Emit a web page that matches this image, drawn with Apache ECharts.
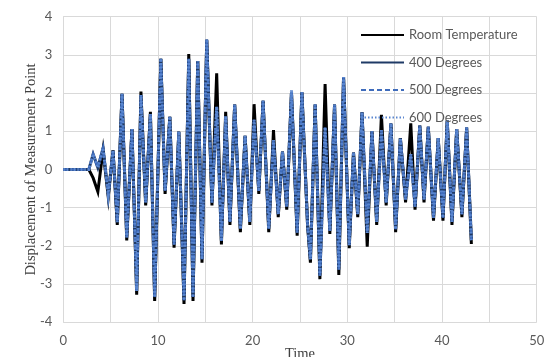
<!DOCTYPE html>
<html>
<head>
<meta charset="utf-8">
<script src="https://cdn.jsdelivr.net/npm/echarts@6/dist/echarts.min.js"></script>
<style>html,body{margin:0;padding:0;background:#fff}#c{width:549px;height:357px}</style>
</head>
<body>
<div id="c"></div>
<script>
var seriesNames = ['Room Temperature', '400 Degrees', '500 Degrees', '600 Degrees'];
var xTicks = [0, 10, 20, 30, 40, 50];
var yTicks = [-4, -3, -2, -1, 0, 1, 2, 3, 4];

var time = [0, 2.7, 3.15, 3.65, 4.2, 4.75, 5.25, 5.7, 6.2, 6.7, 7.25, 7.75, 8.2, 8.7, 9.2, 9.65,
  10.3, 10.75, 11.25, 11.7, 12.2, 12.75, 13.25, 13.7, 14.2, 14.65, 15.15, 15.7, 16.2, 16.7, 17.15, 17.6,
  18.1, 18.7, 19.2, 19.7, 20.15, 20.65, 21.1, 21.7, 22.2, 22.7, 23.15, 23.6, 24.1, 24.7, 25.2, 25.8,
  26.1, 26.6, 27.1, 27.65, 28.15, 28.65, 29.1, 29.6, 30.2, 30.65, 31.1, 31.55, 32.1, 32.6, 33.1, 33.6,
  34.1, 34.6, 35.1, 35.6, 36.15, 36.7, 37.15, 37.65, 38.1, 38.55, 39.1, 39.6, 40.1, 40.55, 41.05, 41.55,
  42.1, 42.6, 43.1];

var roomTemp = [0, 0, -0.22, -0.58, 0.5, -0.72, 0.5, -1.45, 1.98, -1.86, 1.06, -3.28, 2.04, -0.94, 1.51, -3.44,
  2.9, -0.64, 1.38, -2.05, 0.99, -3.52, 3.02, -3.44, 2.84, -2.44, 3.38, -0.94, 2.52, -1.96, 1.51, -1.45,
  1.7, -1.64, 0.88, -1.45, 1.71, -0.64, 1.8, -1.64, 1.03, -1.25, 0.47, -1.05, 2.0, -1.73, 2.02, -1.45,
  -2.44, 1.7, -2.87, 2.24, -1.69, 1.7, -2.76, 2.42, -2.06, 0.44, -1.25, 1.5, -2.02, 1.0, -1.45, 1.43,
  -0.94, 1.2, -1.64, 0.82, -0.86, 1.21, -1.05, 1.15, -0.86, 1.12, -1.34, 0.82, -1.34, 1.28, -1.45, 1.06,
  -1.25, 1.1, -1.95];

var deg400 = [0, 0, 0.4, 0.05, 0.56, -0.66, 0.5, -1.38, 1.98, -1.78, 1.06, -3.18, 1.95, -0.86, 1.45, -3.34,
  2.9, -0.56, 1.38, -1.96, 0.99, -3.42, 2.9, -3.34, 2.84, -2.35, 3.4, -0.86, 1.64, -1.87, 1.4, -1.37,
  1.7, -1.55, 0.88, -1.37, 1.3, -0.56, 1.8, -1.55, 0.77, -1.17, 0.47, -0.97, 2.02, -1.65, 2.02, -1.45,
  -2.35, 1.7, -2.78, 1.1, -1.6, 1.7, -2.62, 2.42, -1.98, 0.44, -1.17, 1.5, -1.66, 1.0, -1.37, 1.03,
  -0.86, 1.2, -1.56, 0.82, -0.78, 0.4, -0.97, 1.15, -0.78, 1.12, -1.26, 0.82, -1.26, 1.28, -1.37, 1.06,
  -1.17, 1.1, -1.85];

var deg500 = [0, 0, 0.4, 0.05, 0.56, -0.66, 0.5, -1.38, 1.98, -1.78, 1.06, -3.18, 1.95, -0.86, 1.45, -3.34,
  2.9, -0.56, 1.38, -1.96, 0.99, -3.42, 2.9, -3.34, 2.84, -2.35, 3.4, -0.86, 1.64, -1.87, 1.4, -1.37,
  1.7, -1.55, 0.88, -1.37, 1.3, -0.56, 1.8, -1.55, 0.77, -1.17, 0.47, -0.97, 2.02, -1.65, 2.02, -1.45,
  -2.35, 1.7, -2.78, 1.1, -1.6, 1.7, -2.62, 2.42, -1.98, 0.44, -1.17, 1.5, -1.66, 1.0, -1.37, 1.03,
  -0.86, 1.2, -1.56, 0.82, -0.78, 0.4, -0.97, 1.15, -0.78, 1.12, -1.26, 0.82, -1.26, 1.28, -1.37, 1.06,
  -1.17, 1.1, -1.85];

var deg600 = [0, 0, 0.4, 0.05, 0.56, -0.66, 0.5, -1.38, 1.98, -1.78, 1.06, -3.18, 1.95, -0.86, 1.45, -3.34,
  2.9, -0.56, 1.38, -1.96, 0.99, -3.42, 2.9, -3.34, 2.84, -2.35, 3.4, -0.86, 1.64, -1.87, 1.4, -1.37,
  1.7, -1.55, 0.88, -1.37, 1.3, -0.56, 1.8, -1.55, 0.77, -1.17, 0.47, -0.97, 2.08, -1.65, 2.02, -1.45,
  -2.35, 1.7, -2.78, 1.1, -1.6, 1.7, -2.62, 2.42, -1.98, 0.44, -1.17, 1.5, -1.66, 1.0, -1.37, 1.03,
  -0.86, 1.2, -1.56, 0.82, -0.78, 0.4, -0.97, 1.15, -0.78, 1.12, -1.26, 0.82, -1.26, 1.28, -1.37, 1.06,
  -1.17, 1.1, -1.85];

function pairs(vals) { return time.map(function (t, i) { return [t, vals[i]]; }); }

var styles = [
  { color: '#000000', width: 3, type: 'solid' },
  { color: '#1f3a66', width: 3, type: 'solid' },
  { color: '#3f6cbc', width: 2.5, type: [5, 3] },
  { color: '#5a86cf', width: 3, type: [1.5, 2] }
];
var valueSets = [roomTemp, deg400, deg500, deg600];

var chart = echarts.init(document.getElementById('c'), null, { renderer: 'canvas' });
var gridColor = '#d9d9d9';
var labelColor = '#595959';
chart.setOption({
  animation: false,
  backgroundColor: '#ffffff',
  grid: { left: 63.3, right: 12.3, top: 16.7, bottom: 34.7, containLabel: false, outerBoundsMode: 'none' },
  legend: {
    orient: 'vertical', left: 355, top: 23.5, itemWidth: 43, itemHeight: 14, itemGap: 14.5,
    itemStyle: { opacity: 0 },
    textStyle: { fontFamily: 'Lato', fontSize: 13, color: labelColor },
    data: seriesNames
  },
  xAxis: {
    type: 'value', min: 0, max: 50, interval: 5,
    name: 'Time', nameLocation: 'middle', nameGap: 24, nameMoveOverlap: false,
    nameTextStyle: { fontFamily: 'Liberation Serif', fontSize: 14.5, color: '#404040',
      verticalAlign: 'top' },
    axisLine: { show: true, lineStyle: { color: gridColor } },
    axisTick: { show: false },
    axisLabel: { margin: 12, fontFamily: 'Lato', fontSize: 13, color: labelColor,
      formatter: function (v) { return xTicks.indexOf(v) >= 0 ? String(v) : ''; } },
    splitLine: { show: true, lineStyle: { color: gridColor } }
  },
  yAxis: {
    type: 'value', min: -4, max: 4, interval: 1,
    name: 'Displacement of Measurement Point', nameLocation: 'middle', nameGap: 25, nameMoveOverlap: false,
    nameTextStyle: { fontFamily: 'Liberation Serif', fontSize: 14.5, color: '#404040' },
    axisLine: { show: true, lineStyle: { color: gridColor } },
    axisTick: { show: false },
    axisLabel: { margin: 11, fontFamily: 'Lato', fontSize: 13, color: labelColor,
      formatter: function (v) { return yTicks.indexOf(v) >= 0 ? String(v) : ''; } },
    splitLine: { show: true, lineStyle: { color: gridColor } }
  },
  series: seriesNames.map(function (n, i) {
    return {
      name: n, type: 'line', symbol: 'none', showSymbol: false,
      data: pairs(valueSets[i]),
      lineStyle: { color: styles[i].color, width: styles[i].width, type: styles[i].type, join: 'miter' },
      itemStyle: { color: styles[i].color }
    };
  })
});
</script>
</body>
</html>
